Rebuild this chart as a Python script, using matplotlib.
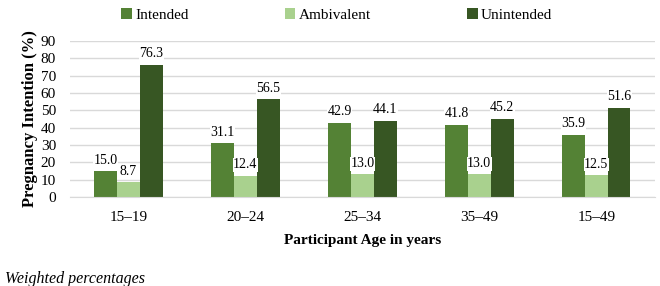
import numpy as np
import matplotlib.pyplot as plt

plt.rcParams['font.family'] = ['Liberation Serif', 'DejaVu Serif']

age_groups = ['15–19', '20–24', '25–34', '35–49', '15–49']
series = ['Intended', 'Ambivalent', 'Unintended']
intended = [15.0, 31.1, 42.9, 41.8, 35.9]
ambivalent = [8.7, 12.4, 13.0, 13.0, 12.5]
unintended = [76.3, 56.5, 44.1, 45.2, 51.6]
colors = ['#548235', '#A9D18E', '#375623']

fig = plt.figure(figsize=(6.6, 2.86), dpi=100)
ax = fig.add_axes([0.106, 0.311, 0.886, 0.546])

x = np.arange(len(age_groups))
w = 0.195
handles = []
for i, (vals, name, c) in enumerate(zip([intended, ambivalent, unintended], series, colors)):
    pos = x + (i - 1) * w
    b = ax.bar(pos, vals, w, color=c, label=name, zorder=2)
    handles.append(b)
    for p, v in zip(pos, vals):
        ax.text(p, v + 2.5, f'{v:.1f}', ha='center', va='bottom', fontsize=10,
                zorder=3, bbox=dict(facecolor='white', edgecolor='none', pad=0.3))

ax.set_ylim(0, 90)
ax.set_xlim(-0.5, len(age_groups) - 0.5)
ax.set_yticks(range(0, 91, 10))
ax.set_xticks(x)
ax.set_xticklabels(age_groups)
ax.yaxis.grid(True, color='#D9D9D9', linewidth=1, zorder=0)
for s in ['top', 'right', 'left']:
    ax.spines[s].set_visible(False)
ax.spines['bottom'].set_color('#D9D9D9')
ax.tick_params(axis='both', length=0, labelsize=11)
ax.tick_params(axis='x', pad=10)
ax.tick_params(axis='y', pad=10)

ax.set_ylabel('Pregnancy Intention (%)', fontsize=12, fontweight='bold', labelpad=2)
ax.set_xlabel('Participant Age in years', fontsize=11, fontweight='bold', labelpad=7)

fig.legend(handles=handles, labels=series, loc='upper center', bbox_to_anchor=(0.51, 1.02),
           ncol=3, frameon=False, fontsize=11, handlelength=0.7, handleheight=0.7,
           handletextpad=0.2, columnspacing=6.3)

fig.text(0.008, 0.012, 'Weighted percentages', fontsize=11.5, style='italic')

fig.savefig('out.png', dpi=100)
